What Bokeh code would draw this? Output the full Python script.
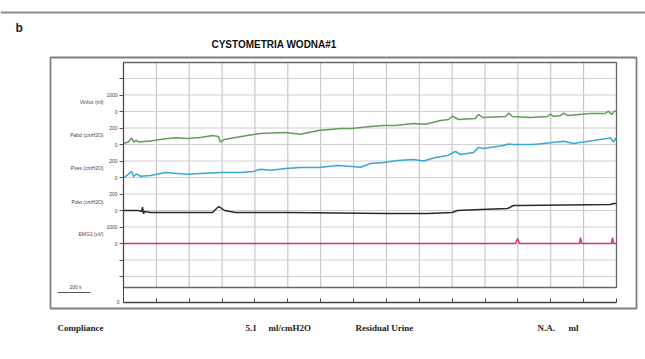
from bokeh.plotting import figure
from bokeh.models import Range1d, LinearAxis, FixedTicker
from bokeh.core.properties import value
from bokeh.embed import file_html
from bokeh.resources import INLINE

# ---------------- data ----------------
# time in seconds, channel values in their units
pabd_t = [0, 30, 49, 61, 79, 91, 164, 256, 316, 389, 469, 542, 578, 590, 615, 682, 791, 834,
          986, 1077, 1187, 1320, 1387, 1503, 1582, 1655, 1765, 1838, 1929, 1978, 2002, 2039,
          2142, 2160, 2185, 2325, 2343, 2367, 2477, 2580, 2598, 2616, 2659, 2678, 2702, 2842,
          2933, 2951, 2970, 2982, 3000]
pabd_v = [12, 30, 80, 30, 50, 30, 42, 70, 82, 73, 85, 109, 97, 30, 61, 85, 121, 133,
          145, 125, 170, 194, 194, 218, 230, 230, 255, 245, 291, 303, 345, 303,
          315, 365, 327, 339, 380, 339, 327, 339, 370, 340, 351, 380, 351, 376,
          376, 405, 364, 395, 412]

pves_t = [0, 18, 49, 61, 79, 103, 164, 256, 389, 469, 590, 712, 791, 834, 895, 986, 1077,
          1187, 1302, 1387, 1442, 1503, 1582, 1667, 1765, 1826, 1899, 1972, 2020, 2051,
          2130, 2160, 2191, 2312, 2343, 2373, 2495, 2598, 2678, 2738, 2860, 2963, 2982, 3000]
pves_v = [0, 20, 75, 12, 45, 15, 24, 61, 40, 48, 61, 61, 73, 100, 88, 109, 121,
          121, 145, 133, 125, 170, 182, 206, 218, 200, 242, 267, 315, 279,
          303, 365, 352, 388, 405, 400, 400, 420, 440, 412, 448, 480, 430, 485]

pdet_t = [0, 91, 110, 116, 122, 128, 164, 480, 542, 566, 578, 590, 615, 682, 1000, 1600,
          1850, 2000, 2032, 2172, 2337, 2373, 2416, 2963, 2982, 3000]
pdet_v = [0, 0, -12, 40, -40, -12, -24, -24, -24, 24, 45, 36, 0, -24, -24, -36,
          -36, -24, 0, 12, 24, 61, 61, 73, 85, 85]

emg_t = [0, 2385, 2398, 2410, 2775, 2781, 2788, 2970, 2976, 2982, 3000]
emg_v = [0, 0, 300, 0, 0, 360, 0, 0, 360, 0, 0]

# channel layout: (name, zero division, units per division)
channels = ["Vinfus (ml)", "Pabd (cmH2O)", "Pves (cmH2O)", "Pdet (cmH2O)", "EMG1 (uV)"]
chan_zero = [11, 9, 7, 5, 3]
chan_gain = [1000, 200, 200, 200, 1000]

y_ticks = [1, 2, 3, 4, 5, 6, 7, 8, 9, 10, 11, 12, 13]
y_tick_labels = ["", "", "0", "1000", "0", "200", "0", "200", "0", "200", "0", "1000", ""]
x_ticks = list(range(0, 3001, 200))

title_text = "CYSTOMETRIA  WODNA#1"
footer = [("Compliance", 57), ("5.1", 245), ("ml/cmH2O", 268), ("Residual Urine", 355),
          ("N.A.", 537), ("ml", 568)]

# ---------------- layout (page pixels) ----------------
W, H = 645, 356
T0, T1 = 0, 3000
CL, CR = 123, 616          # chart left / right (page px)
BASE, DIV = 292.5, 16.5    # page y of division 0, px per division


def X(px):
    return T0 + (px - CL) * (T1 - T0) / (CR - CL)


def Y(py):
    return (BASE - py) / DIV


p = figure(width=W, height=H, x_range=Range1d(X(0), X(W)), y_range=Range1d(Y(H), Y(0)),
           x_axis_type=None, y_axis_type=None, toolbar_location=None, output_backend="svg",
           min_border=0, outline_line_color=None)

# top rule, panel letter and title
p.segment(x0=[X(0)], y0=[Y(12)], x1=[X(W)], y1=[Y(12)], line_color="#8c8c8c", line_width=2)
p.text(x=[X(15)], y=[Y(27)], text=["b"], text_font=value("Liberation Sans"),
       text_font_style="bold", text_font_size="12px", text_baseline="middle", text_color="#222")
p.text(x=[X(275)], y=[Y(44)], text=[title_text], text_font=value("Liberation Sans"),
       text_font_style="bold", text_font_size="10px", text_align="center",
       text_baseline="middle", text_color="#111")

# outer frame
p.quad(left=[X(50)], right=[X(636)], bottom=[Y(308)], top=[Y(57)], fill_color=None,
       line_color="#7e7e7e", line_width=1.8)

# grid
top_div, bot_div = Y(62), Y(287)
p.segment(x0=x_ticks[1:-1], x1=x_ticks[1:-1], y0=[bot_div] * (len(x_ticks) - 2),
          y1=[top_div] * (len(x_ticks) - 2), line_color="#bdbdbd", line_width=1)
p.segment(x0=[T0] * len(y_ticks), x1=[T1] * len(y_ticks), y0=y_ticks, y1=y_ticks,
          line_color="#cecece", line_width=1)
p.quad(left=[T0], right=[T1], bottom=[bot_div], top=[top_div], fill_color=None,
       line_color="#666666", line_width=1.3)

# traces


def to_y(vals, k):
    return [chan_zero[k] + v / chan_gain[k] for v in vals]


p.line(pabd_t, to_y(pabd_v, 1), line_color="#5f9e55", line_width=1.5)
p.line(pves_t, to_y(pves_v, 2), line_color="#3aa6d6", line_width=1.5)
p.line(pdet_t, to_y(pdet_v, 3), line_color="#2a2a2a", line_width=1.5)
p.line(emg_t, to_y(emg_v, 4), line_color="#e0325e", line_width=1.5)

# axes
yax = LinearAxis(fixed_location=T0, bounds=(Y(302), top_div),
                 ticker=FixedTicker(ticks=y_ticks),
                 major_label_overrides={t: l for t, l in zip(y_ticks, y_tick_labels)},
                 major_tick_out=4, major_tick_in=0, minor_tick_out=0, minor_tick_in=0,
                 major_label_standoff=2, major_label_text_font="Liberation Sans",
                 major_label_text_font_size="5px", major_label_text_color="#444",
                 axis_line_color="#444", major_tick_line_color="#555")
p.add_layout(yax, "left")

xax = LinearAxis(fixed_location=Y(302), bounds=(T0, T1), ticker=FixedTicker(ticks=x_ticks),
                 major_label_overrides={t: "" for t in x_ticks},
                 major_tick_out=0, major_tick_in=4, minor_tick_out=0, minor_tick_in=0,
                 axis_line_color="#444", axis_line_width=1.5, major_tick_line_color="#444")
p.add_layout(xax, "below")
p.text(x=[X(119)], y=[Y(301)], text=["0"], text_font=value("Liberation Sans"),
       text_font_size="5px", text_align="right", text_baseline="middle", text_color="#444")

# channel names
name_y = [11.55, 9.55, 7.6, 5.5, 3.6]
p.text(x=[X(103)] * len(channels), y=name_y, text=channels, text_font=value("Liberation Sans"),
       text_font_size="5px", text_align="right", text_baseline="middle", text_color="#444")

# time scale bar
p.text(x=[X(75)], y=[Y(289)], text=["200 s"], text_font=value("Liberation Sans"),
       text_font_size="5px", text_align="center", text_baseline="bottom", text_color="#444")
p.segment(x0=[X(57)], x1=[X(57) + 200], y0=[Y(292)], y1=[Y(292)], line_color="#555", line_width=1)

# footer
p.text(x=[X(px) for _, px in footer], y=[Y(327)] * len(footer), text=[s for s, _ in footer],
       text_font=value("Liberation Serif"), text_font_style="bold", text_font_size="9px",
       text_baseline="middle", text_color="#222")

open("out.html", "w").write(file_html(p, INLINE))
